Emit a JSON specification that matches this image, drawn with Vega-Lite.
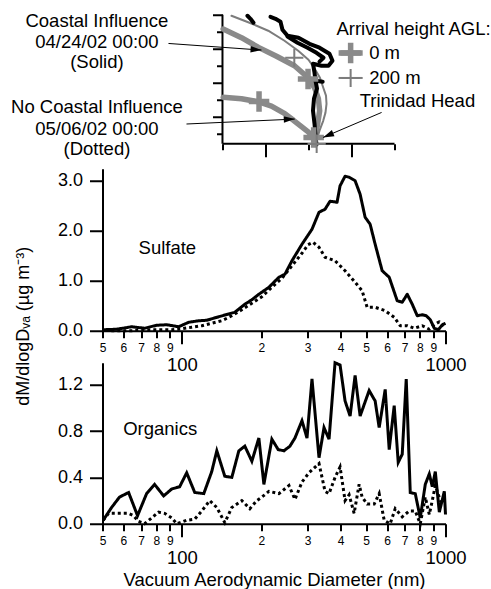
{
  "$schema": "https://vega.github.io/schema/vega-lite/v6.json",
  "padding": {"left": 10.5, "top": 10.75, "right": 0, "bottom": 0},
  "bounds": "flush",
  "spacing": 32,
  "config": {
    "font": "Liberation Sans",
    "view": {"stroke": null},
    "axis": {"domainColor": "black", "tickColor": "black", "labelColor": "black", "titleColor": "black", "domainWidth": 2, "tickWidth": 2, "grid": false, "labelFontWeight": "normal", "titleFontWeight": "normal"}
  },
  "datasets": {
    "aero": [
      {"p":"Sulfate","c":"coastal","d":50,"v":0.02},{"p":"Sulfate","c":"coastal","d":56.5,"v":0.03},{"p":"Sulfate","c":"coastal","d":64.5,"v":0.08},{"p":"Sulfate","c":"coastal","d":72.2,"v":0.05},{"p":"Sulfate","c":"coastal","d":80.2,"v":0.11},{"p":"Sulfate","c":"coastal","d":87.6,"v":0.12},{"p":"Sulfate","c":"coastal","d":97.3,"v":0.08},{"p":"Sulfate","c":"coastal","d":106.2,"v":0.17},{"p":"Sulfate","c":"coastal","d":115.9,"v":0.2},{"p":"Sulfate","c":"coastal","d":124.3,"v":0.21},{"p":"Sulfate","c":"coastal","d":138,"v":0.28},{"p":"Sulfate","c":"coastal","d":158.8,"v":0.37},{"p":"Sulfate","c":"coastal","d":173.3,"v":0.53},{"p":"Sulfate","c":"coastal","d":184.3,"v":0.62},{"p":"Sulfate","c":"coastal","d":195.9,"v":0.73},{"p":"Sulfate","c":"coastal","d":213.9,"v":0.87},{"p":"Sulfate","c":"coastal","d":233.4,"v":1.07},{"p":"Sulfate","c":"coastal","d":246,"v":1.13},{"p":"Sulfate","c":"coastal","d":261.6,"v":1.4},{"p":"Sulfate","c":"coastal","d":285.5,"v":1.73},{"p":"Sulfate","c":"coastal","d":311.6,"v":2.03},{"p":"Sulfate","c":"coastal","d":331.3,"v":2.37},{"p":"Sulfate","c":"coastal","d":349.2,"v":2.43},{"p":"Sulfate","c":"coastal","d":364.8,"v":2.59},{"p":"Sulfate","c":"coastal","d":387.9,"v":2.57},{"p":"Sulfate","c":"coastal","d":398.2,"v":2.9},{"p":"Sulfate","c":"coastal","d":416,"v":3.09},{"p":"Sulfate","c":"coastal","d":430.9,"v":3.07},{"p":"Sulfate","c":"coastal","d":454.1,"v":3.0},{"p":"Sulfate","c":"coastal","d":474.4,"v":2.73},{"p":"Sulfate","c":"coastal","d":495.6,"v":2.27},{"p":"Sulfate","c":"coastal","d":517.8,"v":2.13},{"p":"Sulfate","c":"coastal","d":541,"v":1.73},{"p":"Sulfate","c":"coastal","d":575.2,"v":1.2},{"p":"Sulfate","c":"coastal","d":611.6,"v":1.07},{"p":"Sulfate","c":"coastal","d":655.9,"v":0.6},{"p":"Sulfate","c":"coastal","d":685.3,"v":0.57},{"p":"Sulfate","c":"coastal","d":715.9,"v":0.73},{"p":"Sulfate","c":"coastal","d":748,"v":0.53},{"p":"Sulfate","c":"coastal","d":781.4,"v":0.3},{"p":"Sulfate","c":"coastal","d":816.3,"v":0.32},{"p":"Sulfate","c":"coastal","d":845.5,"v":0.3},{"p":"Sulfate","c":"coastal","d":875.6,"v":0.22},{"p":"Sulfate","c":"coastal","d":906.8,"v":0.05},{"p":"Sulfate","c":"coastal","d":939.1,"v":0.02},{"p":"Sulfate","c":"coastal","d":972.7,"v":0.12},{"p":"Sulfate","c":"coastal","d":1000,"v":0.15},
      {"p":"Sulfate","c":"none","d":54,"v":0.0},{"p":"Sulfate","c":"none","d":64.5,"v":0.0},{"p":"Sulfate","c":"none","d":76.8,"v":0.02},{"p":"Sulfate","c":"none","d":91.5,"v":0.02},{"p":"Sulfate","c":"none","d":99.8,"v":0.04},{"p":"Sulfate","c":"none","d":109,"v":0.07},{"p":"Sulfate","c":"none","d":119,"v":0.1},{"p":"Sulfate","c":"none","d":129.8,"v":0.15},{"p":"Sulfate","c":"none","d":141.7,"v":0.2},{"p":"Sulfate","c":"none","d":154.7,"v":0.3},{"p":"Sulfate","c":"none","d":168.8,"v":0.42},{"p":"Sulfate","c":"none","d":184.3,"v":0.55},{"p":"Sulfate","c":"none","d":201.1,"v":0.68},{"p":"Sulfate","c":"none","d":219.5,"v":0.87},{"p":"Sulfate","c":"none","d":239.6,"v":1.05},{"p":"Sulfate","c":"none","d":261.6,"v":1.3},{"p":"Sulfate","c":"none","d":285.5,"v":1.55},{"p":"Sulfate","c":"none","d":300.9,"v":1.72},{"p":"Sulfate","c":"none","d":314.4,"v":1.77},{"p":"Sulfate","c":"none","d":331.3,"v":1.67},{"p":"Sulfate","c":"none","d":349.2,"v":1.47},{"p":"Sulfate","c":"none","d":381.1,"v":1.4},{"p":"Sulfate","c":"none","d":416,"v":1.2},{"p":"Sulfate","c":"none","d":454.1,"v":0.97},{"p":"Sulfate","c":"none","d":482.8,"v":0.8},{"p":"Sulfate","c":"none","d":504.4,"v":0.47},{"p":"Sulfate","c":"none","d":541,"v":0.47},{"p":"Sulfate","c":"none","d":590.6,"v":0.4},{"p":"Sulfate","c":"none","d":638.9,"v":0.27},{"p":"Sulfate","c":"none","d":673.3,"v":0.1},{"p":"Sulfate","c":"none","d":715.9,"v":0.1},{"p":"Sulfate","c":"none","d":761.2,"v":0.05},{"p":"Sulfate","c":"none","d":816.3,"v":0.1},{"p":"Sulfate","c":"none","d":868,"v":0.03},{"p":"Sulfate","c":"none","d":906.8,"v":0.12},{"p":"Sulfate","c":"none","d":947.4,"v":0.18},{"p":"Sulfate","c":"none","d":989.8,"v":0.05},
      {"p":"Organics","c":"coastal","d":50.3,"v":0.03},{"p":"Organics","c":"coastal","d":54.1,"v":0.14},{"p":"Organics","c":"coastal","d":58,"v":0.23},{"p":"Organics","c":"coastal","d":62.8,"v":0.27},{"p":"Organics","c":"coastal","d":67.9,"v":0.07},{"p":"Organics","c":"coastal","d":73.5,"v":0.26},{"p":"Organics","c":"coastal","d":78.8,"v":0.34},{"p":"Organics","c":"coastal","d":85.3,"v":0.24},{"p":"Organics","c":"coastal","d":91.5,"v":0.3},{"p":"Organics","c":"coastal","d":98.1,"v":0.32},{"p":"Organics","c":"coastal","d":104.3,"v":0.44},{"p":"Organics","c":"coastal","d":111.9,"v":0.27},{"p":"Organics","c":"coastal","d":121.1,"v":0.26},{"p":"Organics","c":"coastal","d":129.8,"v":0.45},{"p":"Organics","c":"coastal","d":135.7,"v":0.63},{"p":"Organics","c":"coastal","d":145.5,"v":0.41},{"p":"Organics","c":"coastal","d":154.7,"v":0.4},{"p":"Organics","c":"coastal","d":164.5,"v":0.63},{"p":"Organics","c":"coastal","d":173.3,"v":0.67},{"p":"Organics","c":"coastal","d":184.3,"v":0.54},{"p":"Organics","c":"coastal","d":195.9,"v":0.74},{"p":"Organics","c":"coastal","d":204.7,"v":0.34},{"p":"Organics","c":"coastal","d":219.5,"v":0.73},{"p":"Organics","c":"coastal","d":232,"v":0.64},{"p":"Organics","c":"coastal","d":243.9,"v":0.63},{"p":"Organics","c":"coastal","d":257,"v":0.67},{"p":"Organics","c":"coastal","d":268.5,"v":0.74},{"p":"Organics","c":"coastal","d":285.5,"v":0.89},{"p":"Organics","c":"coastal","d":298.3,"v":0.74},{"p":"Organics","c":"coastal","d":311.6,"v":1.25},{"p":"Organics","c":"coastal","d":331.3,"v":0.57},{"p":"Organics","c":"coastal","d":346.1,"v":0.83},{"p":"Organics","c":"coastal","d":361.6,"v":0.73},{"p":"Organics","c":"coastal","d":381.1,"v":1.39},{"p":"Organics","c":"coastal","d":398.2,"v":1.37},{"p":"Organics","c":"coastal","d":416,"v":1.06},{"p":"Organics","c":"coastal","d":434.6,"v":0.93},{"p":"Organics","c":"coastal","d":454.1,"v":1.28},{"p":"Organics","c":"coastal","d":474.4,"v":0.93},{"p":"Organics","c":"coastal","d":513.3,"v":1.15},{"p":"Organics","c":"coastal","d":541,"v":1.06},{"p":"Organics","c":"coastal","d":560.3,"v":0.83},{"p":"Organics","c":"coastal","d":590.6,"v":1.16},{"p":"Organics","c":"coastal","d":611.6,"v":0.64},{"p":"Organics","c":"coastal","d":638.9,"v":1.02},{"p":"Organics","c":"coastal","d":661.7,"v":0.53},{"p":"Organics","c":"coastal","d":685.3,"v":0.6},{"p":"Organics","c":"coastal","d":709.7,"v":1.25},{"p":"Organics","c":"coastal","d":735,"v":0.27},{"p":"Organics","c":"coastal","d":767.9,"v":0.26},{"p":"Organics","c":"coastal","d":802.2,"v":0.05},{"p":"Organics","c":"coastal","d":838.1,"v":0.34},{"p":"Organics","c":"coastal","d":868,"v":0.43},{"p":"Organics","c":"coastal","d":891.1,"v":0.32},{"p":"Organics","c":"coastal","d":914.8,"v":0.45},{"p":"Organics","c":"coastal","d":947.4,"v":0.1},{"p":"Organics","c":"coastal","d":989.8,"v":0.28},{"p":"Organics","c":"coastal","d":1000,"v":0.08},
      {"p":"Organics","c":"none","d":50.3,"v":0.03},{"p":"Organics","c":"none","d":52.7,"v":0.09},{"p":"Organics","c":"none","d":57.5,"v":0.09},{"p":"Organics","c":"none","d":62.8,"v":0.09},{"p":"Organics","c":"none","d":65.6,"v":0.07},{"p":"Organics","c":"none","d":68.5,"v":0.02},{"p":"Organics","c":"none","d":72.2,"v":0.0},{"p":"Organics","c":"none","d":76.8,"v":0.05},{"p":"Organics","c":"none","d":81.6,"v":0.1},{"p":"Organics","c":"none","d":86,"v":0.09},{"p":"Organics","c":"none","d":91.5,"v":0.05},{"p":"Organics","c":"none","d":95.6,"v":0.0},{"p":"Organics","c":"none","d":104.3,"v":0.03},{"p":"Organics","c":"none","d":111.9,"v":0.04},{"p":"Organics","c":"none","d":119,"v":0.11},{"p":"Organics","c":"none","d":127.6,"v":0.2},{"p":"Organics","c":"none","d":135.7,"v":0.14},{"p":"Organics","c":"none","d":145.5,"v":0.01},{"p":"Organics","c":"none","d":154.7,"v":0.14},{"p":"Organics","c":"none","d":168.8,"v":0.2},{"p":"Organics","c":"none","d":181.1,"v":0.13},{"p":"Organics","c":"none","d":192.5,"v":0.2},{"p":"Organics","c":"none","d":201.1,"v":0.23},{"p":"Organics","c":"none","d":213.9,"v":0.28},{"p":"Organics","c":"none","d":233.4,"v":0.26},{"p":"Organics","c":"none","d":254.8,"v":0.33},{"p":"Organics","c":"none","d":268.5,"v":0.21},{"p":"Organics","c":"none","d":285.5,"v":0.36},{"p":"Organics","c":"none","d":303.5,"v":0.44},{"p":"Organics","c":"none","d":331.3,"v":0.52},{"p":"Organics","c":"none","d":349.2,"v":0.28},{"p":"Organics","c":"none","d":361.6,"v":0.26},{"p":"Organics","c":"none","d":381.1,"v":0.4},{"p":"Organics","c":"none","d":398.2,"v":0.49},{"p":"Organics","c":"none","d":416,"v":0.2},{"p":"Organics","c":"none","d":430.9,"v":0.25},{"p":"Organics","c":"none","d":450.2,"v":0.09},{"p":"Organics","c":"none","d":470.3,"v":0.34},{"p":"Organics","c":"none","d":482.8,"v":0.23},{"p":"Organics","c":"none","d":504.4,"v":0.17},{"p":"Organics","c":"none","d":536.3,"v":0.17},{"p":"Organics","c":"none","d":560.3,"v":0.26},{"p":"Organics","c":"none","d":585.3,"v":0.03},{"p":"Organics","c":"none","d":616.8,"v":0.0},{"p":"Organics","c":"none","d":644.5,"v":0.13},{"p":"Organics","c":"none","d":685.3,"v":0.06},{"p":"Organics","c":"none","d":728.6,"v":0.11},{"p":"Organics","c":"none","d":767.9,"v":0.11},{"p":"Organics","c":"none","d":802.2,"v":0.0},{"p":"Organics","c":"none","d":838.1,"v":0.23},{"p":"Organics","c":"none","d":868,"v":0.08},{"p":"Organics","c":"none","d":891.1,"v":0.2},{"p":"Organics","c":"none","d":914.8,"v":0.33},{"p":"Organics","c":"none","d":955.8,"v":0.2},{"p":"Organics","c":"none","d":989.8,"v":0.17}
    ],
    "frame": [{"X":0,"Y":0.41,"X2":0,"Y2":8},{"X":0,"Y":0.41,"X2":4,"Y2":0.41}],
    "traj": [
      {"id":"coastal0","h":"0 m","i":1,"X":0.016,"Y":7.16},{"id":"coastal0","h":"0 m","i":2,"X":0.442,"Y":6.65},{"id":"coastal0","h":"0 m","i":3,"X":0.837,"Y":6.08},{"id":"coastal0","h":"0 m","i":4,"X":1.256,"Y":5.56},{"id":"coastal0","h":"0 m","i":5,"X":1.674,"Y":5.0},{"id":"coastal0","h":"0 m","i":6,"X":1.993,"Y":4.29},{"id":"coastal0","h":"0 m","i":7,"X":2.14,"Y":3.71},{"id":"coastal0","h":"0 m","i":8,"X":2.23,"Y":3.06},{"id":"coastal0","h":"0 m","i":9,"X":2.26,"Y":2.35},{"id":"coastal0","h":"0 m","i":10,"X":2.21,"Y":1.53},{"id":"coastal0","h":"0 m","i":11,"X":2.14,"Y":0.76},
      {"id":"coastal200","h":"200 m","i":1,"X":0.209,"Y":7.94},{"id":"coastal200","h":"200 m","i":2,"X":0.628,"Y":7.53},{"id":"coastal200","h":"200 m","i":3,"X":1.063,"Y":7.06},{"id":"coastal200","h":"200 m","i":4,"X":1.442,"Y":6.47},{"id":"coastal200","h":"200 m","i":5,"X":1.76,"Y":5.88},{"id":"coastal200","h":"200 m","i":6,"X":2.0,"Y":5.35},{"id":"coastal200","h":"200 m","i":7,"X":2.147,"Y":4.81},{"id":"coastal200","h":"200 m","i":8,"X":2.267,"Y":4.29},{"id":"coastal200","h":"200 m","i":9,"X":2.342,"Y":3.72},{"id":"coastal200","h":"200 m","i":10,"X":2.407,"Y":3.24},{"id":"coastal200","h":"200 m","i":11,"X":2.419,"Y":2.76},{"id":"coastal200","h":"200 m","i":12,"X":2.395,"Y":2.24},{"id":"coastal200","h":"200 m","i":13,"X":2.342,"Y":1.76},{"id":"coastal200","h":"200 m","i":14,"X":2.256,"Y":1.18},{"id":"coastal200","h":"200 m","i":15,"X":2.186,"Y":0.59},
      {"id":"none0","h":"0 m","i":1,"X":0.016,"Y":3.14},{"id":"none0","h":"0 m","i":2,"X":0.442,"Y":3.06},{"id":"none0","h":"0 m","i":3,"X":0.83,"Y":2.88},{"id":"none0","h":"0 m","i":4,"X":1.14,"Y":2.62},{"id":"none0","h":"0 m","i":5,"X":1.449,"Y":2.18},{"id":"none0","h":"0 m","i":6,"X":1.651,"Y":1.79},{"id":"none0","h":"0 m","i":7,"X":1.837,"Y":1.41},{"id":"none0","h":"0 m","i":8,"X":2.0,"Y":1.09},{"id":"none0","h":"0 m","i":9,"X":2.14,"Y":0.76}
    ],
    "coast": [
      {"seg":"A","i":1,"X":2.186,"Y":0.35},{"seg":"A","i":2,"X":2.163,"Y":0.88},{"seg":"A","i":3,"X":2.14,"Y":1.59},{"seg":"A","i":4,"X":2.105,"Y":2.35},{"seg":"A","i":5,"X":2.128,"Y":3.06},{"seg":"A","i":6,"X":2.198,"Y":3.65},{"seg":"A","i":7,"X":2.163,"Y":4.12},{"seg":"A","i":8,"X":2.14,"Y":4.59},{"seg":"A","i":9,"X":2.105,"Y":5.12},{"seg":"A","i":10,"X":2.302,"Y":5.0},{"seg":"A","i":11,"X":2.465,"Y":5.0},{"seg":"A","i":12,"X":2.558,"Y":5.29},{"seg":"A","i":13,"X":2.488,"Y":5.71},{"seg":"A","i":14,"X":2.256,"Y":6.06},{"seg":"A","i":15,"X":2.023,"Y":6.29},{"seg":"A","i":16,"X":1.767,"Y":6.65},{"seg":"A","i":17,"X":1.512,"Y":6.76},{"seg":"A","i":18,"X":1.395,"Y":7.12},{"seg":"A","i":19,"X":1.349,"Y":7.59},{"seg":"A","i":20,"X":1.233,"Y":7.76},{"seg":"A","i":21,"X":1.116,"Y":7.88},
      {"seg":"B","i":1,"X":1.512,"Y":6.71},{"seg":"B","i":2,"X":1.744,"Y":6.35},{"seg":"B","i":3,"X":1.977,"Y":6.06},{"seg":"B","i":4,"X":2.186,"Y":5.76},{"seg":"B","i":5,"X":2.349,"Y":5.47},{"seg":"B","i":6,"X":2.256,"Y":5.24},
      {"seg":"C","i":1,"X":0.581,"Y":7.94},{"seg":"C","i":2,"X":0.651,"Y":7.76},{"seg":"C","i":3,"X":0.721,"Y":7.53},
      {"seg":"D","i":1,"X":2.163,"Y":4.12},{"seg":"D","i":2,"X":2.33,"Y":4.06}
    ],
    "crosses": [
      {"h":"0 m","X":1.99,"Y":4.22},{"h":"0 m","X":0.85,"Y":2.9},{"h":"0 m","X":2.12,"Y":0.78},{"h":"200 m","X":1.67,"Y":5.47},{"h":"200 m","X":2.19,"Y":0.4},{"h":"0 m","X":2.98,"Y":5.75},{"h":"200 m","X":2.98,"Y":4.28}
    ],
    "keylines": [{"h":"0 m","X":2.7,"X2":3.26,"Y":5.75},{"h":"200 m","X":2.7,"X2":3.26,"Y":4.28}],
    "arrows": [
      {"a":"c","X":-1.256,"Y":6.31,"X2":0.907,"Y2":5.92},
      {"a":"n","X":-0.837,"Y":1.57,"X2":1.68,"Y2":1.86},
      {"a":"t","X":3.7,"Y":2.25,"X2":2.34,"Y2":0.78}
    ],
    "notes": [
      {"t":"Coastal Influence","X":-2.92,"Y":7.65},{"t":"04/24/02 00:00","X":-2.92,"Y":6.37},{"t":"(Solid)","X":-2.92,"Y":5.19},
      {"t":"No Coastal Influence","X":-2.92,"Y":2.55},{"t":"05/06/02 00:00","X":-2.92,"Y":1.28},{"t":"(Dotted)","X":-2.92,"Y":0.1}
    ],
    "keytext": [
      {"t":"Arrival height AGL:","X":2.65,"Y":7.18},{"t":"0 m","X":3.41,"Y":5.75},{"t":"200 m","X":3.41,"Y":4.28},{"t":"Trinidad Head","X":3.19,"Y":2.94}
    ]
  },
  "vconcat": [
    {
      "width": 292,
      "height": 122,
      "encoding": {
        "x": {"field": "X", "type": "quantitative", "scale": {"domain": [-2.79, 4], "nice": false, "zero": false},
          "axis": {"values": [0,1,2,3,4], "labels": false, "domain": false, "title": null, "offset": 7,
            "tickSize": {"condition": {"test": "datum.value % 2 == 1", "value": 13}, "value": 6}}},
        "y": {"field": "Y", "type": "quantitative", "scale": {"domain": [0.82, 8], "nice": false, "zero": false},
          "axis": {"values": [1,2,3,4,5,6,7,8], "labels": false, "domain": false, "title": null, "offset": -120,
            "tickSize": {"condition": {"test": "datum.value % 2 == 0", "value": 10}, "value": 6}}}
      },
      "layer": [
        {"data": {"name": "frame"}, "mark": {"type": "rule", "color": "black", "strokeWidth": 2},
          "encoding": {"x2": {"field": "X2"}, "y2": {"field": "Y2"}}},
        {"data": {"name": "traj"}, "mark": {"type": "line", "strokeCap": "round", "strokeJoin": "round"},
          "encoding": {"detail": {"field": "id"}, "order": {"field": "i"},
            "strokeWidth": {"field": "h", "type": "nominal", "scale": {"domain": ["0 m", "200 m"], "range": [5.5, 2]}, "legend": null},
            "color": {"field": "h", "type": "nominal", "scale": {"domain": ["0 m", "200 m"], "range": ["#8a8a8a", "#7c7c7c"]}, "legend": null}}},
        {"data": {"name": "coast"}, "mark": {"type": "line", "color": "black", "strokeWidth": 4, "strokeJoin": "round", "strokeCap": "round"},
          "encoding": {"detail": {"field": "seg"}, "order": {"field": "i"}}},
        {"data": {"name": "keylines"}, "mark": {"type": "rule"},
          "encoding": {"x2": {"field": "X2"},
            "strokeWidth": {"field": "h", "type": "nominal", "scale": {"domain": ["0 m", "200 m"], "range": [5.5, 2]}, "legend": null},
            "color": {"field": "h", "type": "nominal", "scale": {"domain": ["0 m", "200 m"], "range": ["#8a8a8a", "#7c7c7c"]}, "legend": null}}},
        {"data": {"name": "crosses"}, "mark": {"type": "point", "shape": "M-1,0H1M0,-1V1", "filled": false, "opacity": 1},
          "encoding": {
            "size": {"field": "h", "type": "nominal", "scale": {"domain": ["0 m", "200 m"], "range": [420, 330]}, "legend": null},
            "strokeWidth": {"field": "h", "type": "nominal", "scale": {"domain": ["0 m", "200 m"], "range": [4.5, 2.5]}, "legend": null},
            "color": {"field": "h", "type": "nominal", "scale": {"domain": ["0 m", "200 m"], "range": ["#8a8a8a", "#7c7c7c"]}, "legend": null}}},
        {"data": {"name": "arrows"}, "mark": {"type": "rule", "color": "black", "strokeWidth": 1},
          "encoding": {"x2": {"field": "X2"}, "y2": {"field": "Y2"}}},
        {"data": {"name": "arrows"}, "transform": [{"filter": "datum.a == 'c'"}],
          "mark": {"type": "point", "shape": "M0,0L-1,-0.3L-1,0.3Z", "filled": true, "color": "black", "size": 480, "angle": 4, "opacity": 1},
          "encoding": {"x": {"field": "X2", "type": "quantitative"}, "y": {"field": "Y2", "type": "quantitative"}}},
        {"data": {"name": "arrows"}, "transform": [{"filter": "datum.a == 'n'"}],
          "mark": {"type": "point", "shape": "M0,0L-1,-0.3L-1,0.3Z", "filled": true, "color": "black", "size": 480, "angle": -2.6, "opacity": 1},
          "encoding": {"x": {"field": "X2", "type": "quantitative"}, "y": {"field": "Y2", "type": "quantitative"}}},
        {"data": {"name": "arrows"}, "transform": [{"filter": "datum.a == 't'"}],
          "mark": {"type": "point", "shape": "M0,0L-1,-0.3L-1,0.3Z", "filled": true, "color": "black", "size": 480, "angle": 156.8, "opacity": 1},
          "encoding": {"x": {"field": "X2", "type": "quantitative"}, "y": {"field": "Y2", "type": "quantitative"}}},
        {"data": {"name": "notes"}, "mark": {"type": "text", "align": "center", "baseline": "middle", "fontSize": 18.5, "color": "black"},
          "encoding": {"text": {"field": "t"}}},
        {"data": {"name": "keytext"}, "mark": {"type": "text", "align": "left", "baseline": "middle", "fontSize": 18.5, "color": "black"},
          "encoding": {"text": {"field": "t"}}}
      ]
    },
    {
      "width": 343,
      "height": 162,
      "layer": [
        {"data": {"name": "aero"}, "transform": [{"filter": "datum.p == 'Sulfate'"}],
          "mark": {"type": "line", "color": "black", "strokeWidth": 3, "strokeJoin": "round"},
          "encoding": {
            "x": {"field": "d", "type": "quantitative", "scale": {"type": "log", "domain": [50, 1000], "nice": false},
              "axis": {"values": [50,60,70,80,90,100,200,300,400,500,600,700,800,900,1000], "title": null,
                "labelExpr": "datum.value == 100 ? '100' : datum.value == 1000 ? '1000' : datum.value < 100 ? '' + (datum.value / 10) : '' + (datum.value / 100)",
                "labelFontSize": {"condition": {"test": "datum.value == 100 || datum.value == 1000", "value": 18.5}, "value": 12},
                "tickSize": {"condition": {"test": "datum.value == 100 || datum.value == 1000", "value": 13}, "value": 7},
                "labelPadding": {"condition": {"test": "datum.value == 100 || datum.value == 1000", "value": 12}, "value": 5},
                "labelFlush": false, "labelOverlap": false}},
            "y": {"field": "v", "type": "quantitative", "scale": {"domain": [0, 3.24], "nice": false},
              "axis": {"values": [0,0.5,1,1.5,2,2.5,3], "labelExpr": "datum.value % 1 == 0 ? format(datum.value, '.1f') : ''",
                "tickSize": {"condition": {"test": "datum.value % 1 == 0", "value": 13}, "value": 8},
                "labelPadding": 7, "labelFontSize": 18,
                "title": "dM/dlogDᵥₐ (µg m⁻³)", "titleFontSize": 18, "titleX": -79, "titleY": 157, "titleAngle": 270, "titleAlign": "center", "titleBaseline": "middle"}},
            "strokeDash": {"field": "c", "type": "nominal", "scale": {"domain": ["coastal", "none"], "range": [[1, 0], [3, 3]]}, "legend": null}}},
        {"data": {"values": [{"t": "Sulfate", "d": 68.5, "v": 1.66}]},
          "mark": {"type": "text", "align": "left", "baseline": "middle", "fontSize": 18.5, "color": "black"},
          "encoding": {"x": {"field": "d", "type": "quantitative"}, "y": {"field": "v", "type": "quantitative"}, "text": {"field": "t"}}}
      ]
    },
    {
      "width": 343,
      "height": 161,
      "layer": [
        {"data": {"name": "aero"}, "transform": [{"filter": "datum.p == 'Organics'"}],
          "mark": {"type": "line", "color": "black", "strokeWidth": 3, "strokeJoin": "miter"},
          "encoding": {
            "x": {"field": "d", "type": "quantitative", "scale": {"type": "log", "domain": [50, 1000], "nice": false},
              "axis": {"values": [50,60,70,80,90,100,200,300,400,500,600,700,800,900,1000],
                "title": "Vacuum Aerodynamic Diameter (nm)", "titleFontSize": 18.5, "titlePadding": 3,
                "labelExpr": "datum.value == 100 ? '100' : datum.value == 1000 ? '1000' : datum.value < 100 ? '' + (datum.value / 10) : '' + (datum.value / 100)",
                "labelFontSize": {"condition": {"test": "datum.value == 100 || datum.value == 1000", "value": 18.5}, "value": 12},
                "tickSize": {"condition": {"test": "datum.value == 100 || datum.value == 1000", "value": 13}, "value": 7},
                "labelPadding": {"condition": {"test": "datum.value == 100 || datum.value == 1000", "value": 12}, "value": 5},
                "labelFlush": false, "labelOverlap": false}},
            "y": {"field": "v", "type": "quantitative", "scale": {"domain": [0, 1.39], "nice": false},
              "axis": {"values": [0,0.2,0.4,0.6,0.8,1.0,1.2], "labelExpr": "round(datum.value * 10) % 4 == 0 ? format(datum.value, '.1f') : ''",
                "tickSize": {"condition": {"test": "round(datum.value * 10) % 4 == 0", "value": 13}, "value": 8},
                "labelPadding": 7, "labelFontSize": 18, "title": null}},
            "strokeDash": {"field": "c", "type": "nominal", "scale": {"domain": ["coastal", "none"], "range": [[1, 0], [3, 3]]}, "legend": null}}},
        {"data": {"values": [{"t": "Organics", "d": 59.9, "v": 0.82}]},
          "mark": {"type": "text", "align": "left", "baseline": "middle", "fontSize": 18.5, "color": "black"},
          "encoding": {"x": {"field": "d", "type": "quantitative"}, "y": {"field": "v", "type": "quantitative"}, "text": {"field": "t"}}}
      ]
    }
  ]
}
